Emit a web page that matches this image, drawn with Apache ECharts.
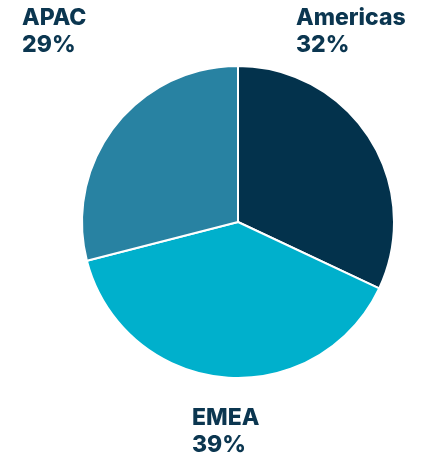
<!DOCTYPE html>
<html><head><meta charset="utf-8">
<script src="https://cdn.jsdelivr.net/npm/echarts@6/dist/echarts.min.js"></script>
<style>html,body{margin:0;padding:0;background:#fff}#c{width:426px;height:457px}</style>
</head><body><div id="c"></div>
<script>
const categories = ['Americas', 'EMEA', 'APAC'];
const values = [32, 39, 29];
const colors = ['#03324c', '#00b0cc', '#2882a2'];
const labelPos = [[296, 5], [192, 405], [22, 5]];

const chart = echarts.init(document.getElementById('c'));
chart.setOption({
  animation: false,
  series: [{
    type: 'pie',
    center: [238, 222],
    radius: [0, 156],
    startAngle: 90,
    clockwise: true,
    data: categories.map((n, i) => ({ name: n, value: values[i], itemStyle: { color: colors[i] } })),
    itemStyle: { borderColor: '#fff', borderWidth: 2 },
    label: { show: false },
    labelLine: { show: false }
  }],
  graphic: categories.map((n, i) => ({
    type: 'text',
    left: labelPos[i][0],
    top: labelPos[i][1],
    style: {
      text: n + '\n' + values[i] + '%',
      fontFamily: 'Inter',
      fontWeight: 800,
      fontSize: 23,
      lineHeight: 27,
      fill: '#0b3650'
    }
  }))
});
</script></body></html>
